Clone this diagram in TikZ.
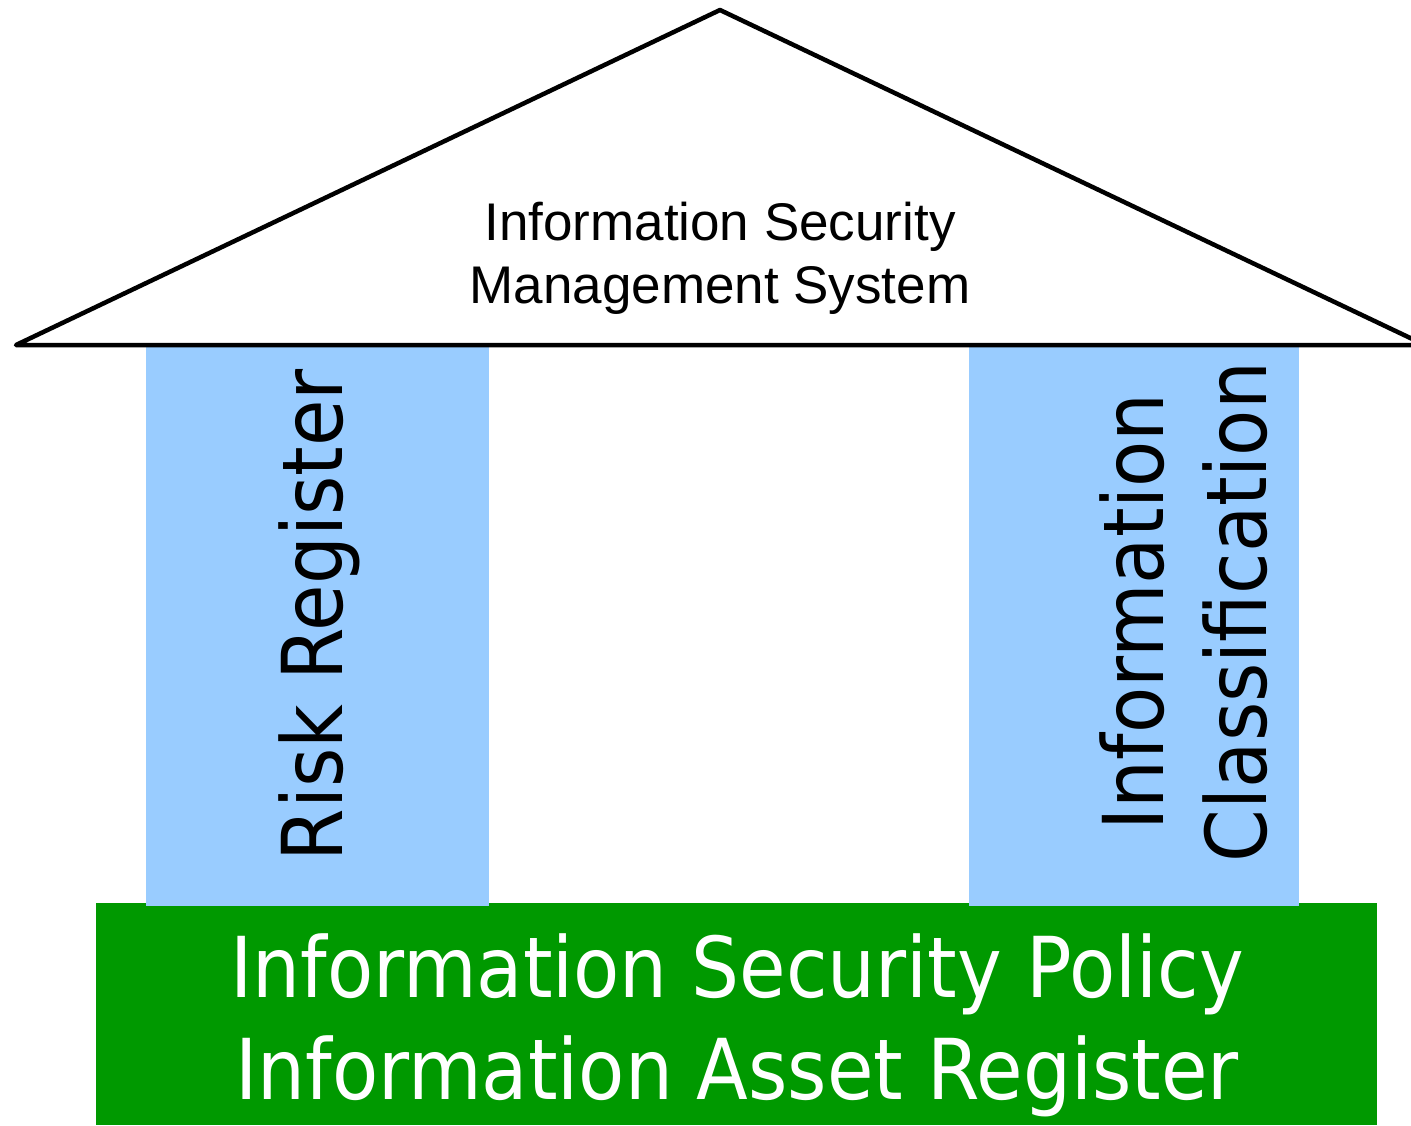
\documentclass[tikz,border=0pt]{standalone}
\usepackage{fontspec}
\setmainfont{Liberation Sans}
\newfontfamily\pillarfont{DejaVu Sans}[FakeStretch=0.9]
\usetikzlibrary{positioning}
\definecolor{pillarblue}{RGB}{153,204,255}
\definecolor{basegreen}{RGB}{0,153,0}
\tikzset{
  roof/.style={draw=black, line width=4.5pt, line join=round, fill=white},
  pillar/.style={fill=pillarblue},
  plinth/.style={fill=basegreen},
  rooflbl/.style={align=center, font=\fontsize{53}{63}\selectfont},
  pillarlbl/.style={align=center, rotate=90,
    font=\pillarfont\fontsize{84}{103}\selectfont},
  baselbl/.style={align=center, text=white,
    font=\pillarfont\fontsize{84}{102}\selectfont}
}

\begin{document}
\begin{tikzpicture}[x=1pt, y=-1pt]
\useasboundingbox (0,0) rectangle (1411,1125);

%% Foundation
\fill[plinth] (96,903) rectangle (1377,1125);
%% Pillars
\fill[pillar] (146,345) rectangle (489,906);
\fill[pillar] (969,345) rectangle (1299,906);
%% Roof
\draw[roof] (16,345) -- (720,10) -- (1425,345) -- cycle;

\node[rooflbl] (isms) at (720,258) {Information Security\\Management System};
\node[pillarlbl, anchor=base] (risk) at (342,615) {Risk Register};
\node[pillarlbl] (class) at (1184,612) {Information\\Classification};
\node[baselbl] (policy) at (737,1025) {Information Security Policy\\Information Asset Register};

\end{tikzpicture}
\end{document}
